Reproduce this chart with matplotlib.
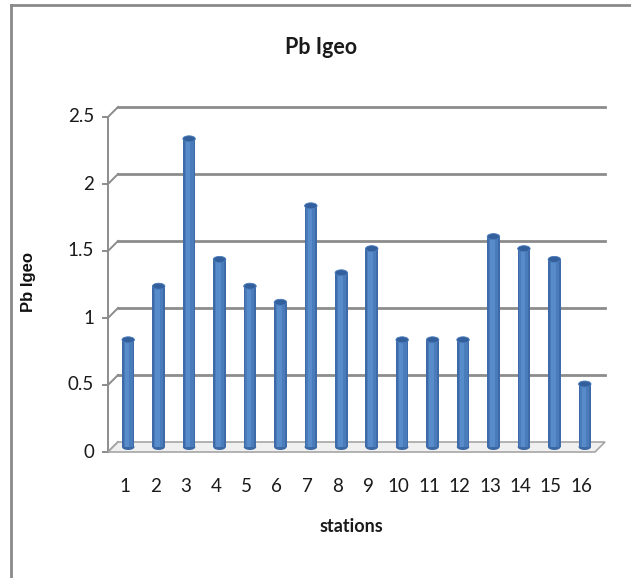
import matplotlib
matplotlib.use('Agg')
import matplotlib.pyplot as plt
from matplotlib.patches import Ellipse, Polygon
from matplotlib.lines import Line2D

# data
stations = [str(i) for i in range(1, 17)]
pb_igeo = [0.8, 1.2, 2.3, 1.4, 1.2, 1.08, 1.8, 1.3, 1.48, 0.8, 0.8, 0.8, 1.57, 1.48, 1.4, 0.47]
y_ticks = [0, 0.5, 1, 1.5, 2, 2.5]
y_tick_labels = ['0', '0.5', '1', '1.5', '2', '2.5']

W, H = 631, 578
narrow = ['Lato', 'DejaVu Sans']

fig = plt.figure(figsize=(W / 100, H / 100), dpi=100)
fig.patch.set_facecolor('white')

# back wall of the pseudo 3d plot area (pixels)
left, right, top, bottom = 118, 605, 107, 442
ax = fig.add_axes([left / W, 1 - bottom / H, (right - left) / W, (bottom - top) / H])
ax.set_xlim(0.5, 16.5)
ax.set_ylim(0, 2.5)
ax.axis('off')

ppx = (right - left) / 16
ppy = (bottom - top) / 2.5
depth = 10
dx, dy = depth / ppx, depth / ppy

grid_c = '#8c8c8c'

# floor
x0, x1 = 0.5, 16.5
floor = Polygon([(x0, 0), (x1, 0), (x1 - dx, -dy), (x0 - dx, -dy)], closed=True,
                facecolor='#f0f0f0', edgecolor='#a6a6a6', lw=1.2, zorder=1, clip_on=False)
ax.add_patch(floor)

# gridlines on back wall + diagonals to front axis
for yv, lab in zip(y_ticks, y_tick_labels):
    if yv > 0:
        ax.plot([x0, x1], [yv, yv], color=grid_c, lw=2, zorder=0, clip_on=False)
    ax.plot([x0 - dx, x0], [yv - dy, yv], color=grid_c, lw=1.4, zorder=0, clip_on=False)
    ax.plot([x0 - dx - 5 / ppx, x0 - dx], [yv - dy, yv - dy], color=grid_c, lw=1.4,
            zorder=0, clip_on=False)
    ax.text(x0 - dx - 14 / ppx, yv - dy, lab, ha='right', va='center', fontsize=13.5,
            family=narrow, color='#1a1a1a')
# front vertical axis
ax.plot([x0 - dx, x0 - dx], [-dy, 2.5 - dy], color=grid_c, lw=1.4, zorder=0, clip_on=False)

# cylinders
bw = 0.41
cap_h = 6 / ppy
for i, v in enumerate(pb_igeo):
    xc = i + 1 - dx / 2
    yb = -dy / 2
    ax.add_patch(Ellipse((xc, yb), bw, cap_h, facecolor='#3b68a3', edgecolor='none',
                         zorder=3, clip_on=False))
    ax.bar(xc, v, bottom=yb, width=bw, color='#3e6ba7', zorder=4, clip_on=False)
    ax.bar(xc, v, bottom=yb, width=bw * 0.72, color='#4a7cbc', zorder=5, clip_on=False)
    ax.bar(xc - bw * 0.08, v, bottom=yb, width=bw * 0.36, color='#588bca', zorder=6,
           clip_on=False)
    ax.add_patch(Ellipse((xc, yb + v), bw, cap_h, facecolor='#33609c', edgecolor='#4a7cbc',
                         lw=0.6, zorder=7, clip_on=False))
    ax.text(i + 1 - dx * 0.85, -45 / ppy, stations[i], ha='center', va='center',
            fontsize=13.5, family=narrow, color='#1a1a1a')

fig.text(321 / W, 1 - 48 / H, 'Pb Igeo', ha='center', va='center', fontsize=15.5,
         fontweight='bold', family=narrow, color='#1a1a1a')
fig.text(351 / W, 1 - 527 / H, 'stations', ha='center', va='center', fontsize=13,
         fontweight='bold', family=narrow, color='#1a1a1a')
fig.text(29 / W, 1 - 282 / H, 'Pb Igeo', ha='center', va='center', rotation=90,
         fontsize=12, fontweight='bold', family=['Liberation Sans', 'DejaVu Sans'],
         color='#111111')

# outer chart border (left and top only visible)
fig.add_artist(Line2D([10.5 / W, 10.5 / W], [0, 1 - 5 / H], color='#8a8a8a', lw=2,
                      transform=fig.transFigure))
fig.add_artist(Line2D([10.5 / W, 1], [1 - 5 / H, 1 - 5 / H], color='#8a8a8a', lw=2,
                      transform=fig.transFigure))

fig.savefig('out.png', dpi=100)
